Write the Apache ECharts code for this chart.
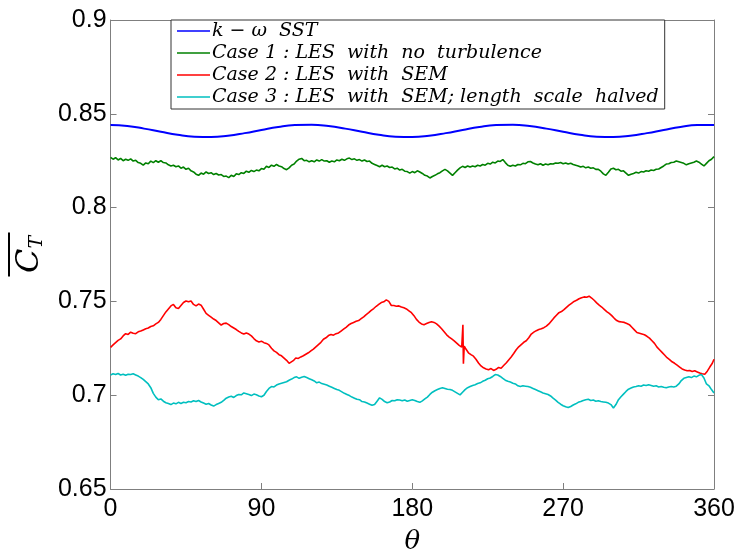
<!DOCTYPE html>
<html>
<head>
<meta charset="utf-8">
<script src="https://cdn.jsdelivr.net/npm/echarts@6/dist/echarts.min.js"></script>
<style>html,body{margin:0;padding:0;background:#fff}#c{width:738px;height:560px}</style>
</head>
<body>
<div id="c"></div>
<script>
var xTicks = [0, 90, 180, 270, 360];
var yTicks = [0.65, 0.7, 0.75, 0.8, 0.85, 0.9];
var seriesNames = [
  'k \u2212 \u03c9  SST',
  'Case 1 : LES  with  no  turbulence',
  'Case 2 : LES  with  SEM',
  'Case 3 : LES  with  SEM; length  scale  halved'
];

var sstData = [[0,.8440],[10,.8435],[20,.8421],[30,.8404],[40,.8388],[50,.8378],[60,.8376],[70,.8383],[80,.8397],[90,.8414],[100,.8430],[110,.8440],
[120,.8442],[130,.8435],[140,.8421],[150,.8404],[160,.8388],[170,.8378],[180,.8376],[190,.8383],[200,.8397],[210,.8414],[220,.8430],[230,.8440],
[240,.8442],[250,.8435],[260,.8421],[270,.8404],[280,.8388],[290,.8378],[300,.8376],[310,.8383],[320,.8397],[330,.8414],[340,.8430],[350,.8440],[360,.8440]];

var case1Data = [[0,.8268],[1.5,.8258],[3,.8266],[4.5,.8254],[6,.8262],[7.5,.8250],[9,.8258],[10.5,.8252],[12,.8260],[13.5,.8248],[15,.8252],[16.5,.8240],[18,.8236],[19.5,.8226],[21,.8238],[22.5,.8234],[24,.8248],[25.5,.8240],[27,.8250],[28.5,.8242],[30,.8250],[31.5,.8240],[33,.8238],[34.5,.8228],[36,.8222],[37.5,.8226],[39,.8218],[40.5,.8222],[42,.8210],[43.5,.8216],[45,.8204],[46.5,.8210],[48,.8196],[49.5,.8190],[51,.8178],[52.5,.8172],[54,.8184],[55.5,.8178],[57,.8190],[58.5,.8182],[60,.8186],[61.5,.8176],[63,.8182],[64.5,.8174],[66,.8176],[67.5,.8166],[69,.8168],[70.5,.8160],[72,.8172],[73.5,.8166],[75,.8180],[76.5,.8176],[78,.8186],[79.5,.8182],[81,.8194],[82.5,.8188],[84,.8198],[85.5,.8192],[87,.8200],[88.5,.8196],[90,.8208],[91.5,.8204],[93,.8220],[94.5,.8214],[96,.8226],[97.5,.8220],[99,.8230],[100.5,.8222],[102,.8218],[103.5,.8208],[105,.8202],[106.5,.8212],[108,.8226],[109.5,.8232],[111,.8248],[112.5,.8258],[114,.8262],[115.5,.8250],[117,.8252],[118.5,.8244],[120,.8250],[121.5,.8244],[123,.8254],[124.5,.8248],[126,.8256],[127.5,.8248],[129,.8250],[130.5,.8242],[132,.8248],[133.5,.8244],[135,.8254],[136.5,.8250],[138,.8258],[139.5,.8252],[141,.8260],[142.5,.8264],[144,.8256],[145.5,.8260],[147,.8252],[148.5,.8256],[150,.8248],[151.5,.8254],[153,.8246],[154.5,.8248],[156,.8236],[157.5,.8230],[159,.8224],[160.5,.8218],[162,.8226],[163.5,.8218],[165,.8222],[166.5,.8214],[168,.8216],[169.5,.8206],[171,.8210],[172.5,.8200],[174,.8204],[175.5,.8194],[177,.8192],[178.5,.8184],[180,.8192],[181.5,.8186],[183,.8196],[184.5,.8190],[186,.8182],[187.5,.8172],[189,.8168],[190.5,.8158],[192,.8166],[193.5,.8172],[195,.8180],[196.5,.8186],[198,.8196],[199.5,.8204],[201,.8196],[202.5,.8184],[204,.8172],[205.5,.8186],[207,.8200],[208.5,.8212],[210,.8220],[211.5,.8214],[213,.8222],[214.5,.8216],[216,.8222],[217.5,.8218],[219,.8226],[220.5,.8222],[222,.8230],[223.5,.8226],[225,.8236],[226.5,.8232],[228,.8242],[229.5,.8238],[231,.8248],[232.5,.8246],[234,.8256],[235.5,.8240],[237,.8226],[238.5,.8220],[240,.8226],[241.5,.8222],[243,.8230],[244.5,.8228],[246,.8236],[247.5,.8234],[249,.8244],[250.5,.8246],[252,.8238],[253.5,.8232],[255,.8228],[256.5,.8234],[258,.8226],[259.5,.8232],[261,.8228],[262.5,.8234],[264,.8232],[265.5,.8238],[267,.8236],[268.5,.8240],[270,.8234],[271.5,.8238],[273,.8232],[274.5,.8236],[276,.8230],[277.5,.8226],[279,.8222],[280.5,.8216],[282,.8220],[283.5,.8212],[285,.8216],[286.5,.8210],[288,.8212],[289.5,.8204],[291,.8204],[292.5,.8194],[294,.8180],[295.5,.8172],[297,.8188],[298.5,.8206],[300,.8210],[301.5,.8202],[303,.8204],[304.5,.8194],[306,.8196],[307.5,.8184],[309,.8172],[310.5,.8178],[312,.8182],[313.5,.8188],[315,.8184],[316.5,.8192],[318,.8190],[319.5,.8196],[321,.8194],[322.5,.8200],[324,.8198],[325.5,.8204],[327,.8206],[328.5,.8214],[330,.8222],[331.5,.8232],[333,.8234],[334.5,.8240],[336,.8242],[337.5,.8248],[339,.8244],[340.5,.8240],[342,.8236],[343.5,.8228],[345,.8234],[346.5,.8238],[348,.8242],[349.5,.8248],[351,.8242],[352.5,.8232],[354,.8222],[355.5,.8236],[357,.8250],[358.5,.8258],[360,.8272]];

var case2Data = [[0,.7255],[1.5,.7268],[3,.7280],[4.5,.7292],[6,.7300],[7.5,.7316],[9,.7328],[10.5,.7324],[12,.7336],[13.5,.7330],[15,.7328],[16.5,.7338],[18,.7342],[19.5,.7348],[21,.7354],[22.5,.7358],[24,.7366],[25.5,.7370],[27,.7380],[28.5,.7388],[30,.7404],[31.5,.7424],[33,.7444],[34.5,.7460],[36,.7476],[37.5,.7484],[39,.7466],[40.5,.7462],[42,.7478],[43.5,.7494],[45,.7502],[46.5,.7498],[48,.7502],[49.5,.7484],[51,.7476],[52.5,.7486],[54,.7480],[55.5,.7458],[57,.7436],[58.5,.7426],[60,.7416],[61.5,.7406],[63,.7398],[64.5,.7386],[66,.7374],[67.5,.7382],[69,.7384],[70.5,.7376],[72,.7366],[73.5,.7358],[75,.7350],[76.5,.7340],[78,.7332],[79.5,.7326],[81,.7332],[82.5,.7326],[84,.7316],[85.5,.7302],[87,.7290],[88.5,.7284],[90,.7288],[91.5,.7280],[93,.7276],[94.5,.7268],[96,.7250],[97.5,.7236],[99,.7228],[100.5,.7216],[102,.7210],[103.5,.7198],[105,.7186],[106.5,.7170],[107.5,.7162],[109,.7184],[110.5,.7198],[112,.7196],[113.5,.7204],[115,.7210],[116.5,.7218],[118,.7226],[119.5,.7236],[121,.7246],[122.5,.7258],[124,.7270],[125.5,.7282],[127,.7298],[128.5,.7306],[130,.7318],[131.5,.7324],[133,.7320],[134.5,.7328],[136,.7332],[137.5,.7342],[139,.7352],[140.5,.7362],[142,.7374],[143.5,.7382],[145,.7388],[146.5,.7394],[148,.7398],[149.5,.7408],[151,.7418],[152.5,.7430],[154,.7440],[155.5,.7452],[157,.7462],[158.5,.7474],[160,.7484],[161.5,.7494],[163,.7498],[164.5,.7508],[166,.7500],[167.5,.7478],[169,.7478],[170.5,.7474],[172,.7476],[173.5,.7470],[175,.7466],[176.5,.7460],[178,.7450],[179.5,.7440],[181,.7424],[182.5,.7404],[184,.7390],[185.5,.7380],[187,.7376],[188.5,.7382],[190,.7388],[191.5,.7392],[193,.7388],[194.5,.7380],[196,.7368],[197.5,.7354],[199,.7338],[200.5,.7322],[202,.7310],[203.5,.7300],[205,.7290],[206.5,.7278],[208,.7266],[209.5,.7256],[210.2,.7375],[210.5,.7168],[211,.7262],[212,.7246],[213.5,.7226],[215,.7216],[216.5,.7208],[218,.7192],[219.5,.7172],[221,.7156],[222.5,.7146],[224,.7140],[225.5,.7136],[227,.7142],[228.5,.7132],[230,.7138],[231.5,.7148],[233,.7144],[234.5,.7158],[236,.7172],[237.5,.7188],[239,.7204],[240.5,.7222],[242,.7242],[243.5,.7258],[245,.7270],[246.5,.7282],[248,.7290],[249.5,.7306],[251,.7326],[252.5,.7336],[254,.7344],[255.5,.7350],[257,.7354],[258.5,.7360],[260,.7368],[261.5,.7380],[263,.7396],[264.5,.7412],[266,.7426],[267.5,.7440],[269,.7446],[270.5,.7456],[272,.7468],[273.5,.7480],[275,.7490],[276.5,.7500],[278,.7506],[279.5,.7514],[281,.7520],[282.5,.7524],[284,.7522],[285.5,.7528],[287,.7518],[288.5,.7506],[290,.7492],[291.5,.7480],[293,.7470],[294.5,.7458],[296,.7446],[297.5,.7436],[299,.7424],[300.5,.7410],[302,.7398],[303.5,.7392],[305,.7390],[306.5,.7388],[308,.7382],[309.5,.7376],[311,.7362],[312.5,.7348],[314,.7334],[315.5,.7330],[317,.7326],[318.5,.7322],[320,.7314],[321.5,.7304],[323,.7290],[324.5,.7276],[326,.7256],[327.5,.7242],[329,.7228],[330.5,.7214],[332,.7200],[333.5,.7190],[335,.7178],[336.5,.7170],[338,.7160],[339.5,.7150],[341,.7140],[342.5,.7134],[344,.7130],[345.5,.7132],[347,.7126],[348.5,.7130],[350,.7124],[351.5,.7118],[353,.7114],[354.5,.7112],[356,.7128],[357.5,.7150],[359,.7170],[360,.7192]];

var case3Data = [[0,.7108],[1.5,.7114],[3,.7110],[4.5,.7116],[6,.7108],[7.5,.7112],[9,.7106],[10.5,.7112],[12,.7110],[13.5,.7114],[15,.7108],[16.5,.7102],[18,.7094],[19.5,.7084],[21,.7072],[22.5,.7060],[24,.7040],[25.5,.7010],[27,.6990],[28.5,.6976],[30,.6980],[31.5,.6968],[33,.6960],[34.5,.6956],[36,.6950],[37.5,.6958],[39,.6954],[40.5,.6962],[42,.6956],[43.5,.6962],[45,.6960],[46.5,.6966],[48,.6964],[49.5,.6970],[51,.6966],[52.5,.6972],[54,.6964],[55.5,.6958],[57,.6952],[58.5,.6956],[60,.6948],[61.5,.6942],[63,.6950],[64.5,.6956],[66,.6962],[67.5,.6972],[69,.6984],[70.5,.6990],[72,.6994],[73.5,.6988],[75,.6998],[76.5,.7004],[78,.7002],[79.5,.7012],[81,.7008],[82.5,.7004],[84,.6998],[85.5,.7006],[87,.7002],[88.5,.6996],[90,.6992],[91.5,.7000],[93,.7020],[94.5,.7036],[96,.7046],[97.5,.7044],[99,.7054],[100.5,.7060],[102,.7064],[103.5,.7068],[105,.7072],[106.5,.7080],[108,.7086],[109.5,.7094],[111,.7098],[112.5,.7090],[114,.7096],[115.5,.7100],[117,.7094],[118.5,.7088],[120,.7082],[121.5,.7076],[123,.7066],[124.5,.7070],[126,.7062],[127.5,.7058],[129,.7054],[130.5,.7048],[132,.7042],[133.5,.7036],[135,.7030],[136.5,.7026],[138,.7018],[139.5,.7010],[141,.7004],[142.5,.6998],[144,.6990],[145.5,.6984],[147,.6978],[148.5,.6976],[150,.6966],[151.5,.6964],[153,.6958],[154.5,.6952],[156,.6946],[157.5,.6950],[159,.6968],[160.5,.6986],[162,.6978],[163.5,.6966],[165,.6960],[166.5,.6964],[168,.6972],[169.5,.6970],[171,.6976],[172.5,.6974],[174,.6970],[175.5,.6974],[177,.6968],[178.5,.6972],[180,.6976],[181.5,.6972],[183,.6966],[184.5,.6962],[186,.6970],[187.5,.6980],[189,.6990],[190.5,.7004],[192,.7016],[193.5,.7024],[195,.7030],[196.5,.7036],[198,.7040],[199.5,.7036],[201,.7032],[202.5,.7030],[204,.7026],[205.5,.7018],[207,.7010],[208.5,.7002],[210,.7016],[211.5,.7030],[213,.7040],[214.5,.7046],[216,.7052],[217.5,.7056],[219,.7062],[220.5,.7066],[222,.7074],[223.5,.7080],[225,.7088],[226.5,.7092],[228,.7100],[229.5,.7110],[231,.7108],[232.5,.7100],[234,.7090],[235.5,.7080],[237,.7074],[238.5,.7070],[240,.7064],[241.5,.7060],[243,.7050],[244.5,.7046],[246,.7050],[247.5,.7048],[249,.7046],[250.5,.7042],[252,.7036],[253.5,.7030],[255,.7024],[256.5,.7018],[258,.7012],[259.5,.7008],[261,.7004],[262.5,.6996],[264,.6984],[265.5,.6974],[267,.6962],[268.5,.6952],[270,.6944],[271.5,.6938],[273,.6934],[274.5,.6940],[276,.6948],[277.5,.6954],[279,.6962],[280.5,.6966],[282,.6972],[283.5,.6976],[285,.6978],[286.5,.6972],[288,.6974],[289.5,.6968],[291,.6970],[292.5,.6966],[294,.6964],[295.5,.6962],[297,.6958],[298.5,.6950],[300,.6932],[301.5,.6950],[303,.6976],[304.5,.6992],[306,.7006],[307.5,.7020],[309,.7032],[310.5,.7038],[312,.7044],[313.5,.7046],[315,.7050],[316.5,.7048],[318,.7054],[319.5,.7052],[321,.7056],[322.5,.7052],[324,.7048],[325.5,.7050],[327,.7044],[328.5,.7046],[330,.7042],[331.5,.7040],[333,.7044],[334.5,.7046],[336,.7044],[337.5,.7048],[339,.7060],[340.5,.7078],[342,.7090],[343.5,.7094],[345,.7098],[346.5,.7094],[348,.7102],[349.5,.7098],[351,.7106],[352.5,.7110],[354,.7092],[355.5,.7060],[357,.7050],[358.5,.7030],[360,.7012]];

var colors = ['#0000ff', '#008000', '#ff0000', '#00bfbf'];

var chart = echarts.init(document.getElementById('c'), null, {renderer: 'canvas'});
var axisGray = '#7f7f7f';
var labelFont = {color: '#000', fontFamily: 'Liberation Sans, Arial, sans-serif', fontSize: 25};

function frameAxis(type, pos, isX) {
  var a = {
    type: 'value', position: pos,
    min: isX ? xTicks[0] : yTicks[0],
    max: isX ? xTicks[xTicks.length - 1] : yTicks[yTicks.length - 1],
    interval: isX ? 90 : 0.05,
    axisLine: {show: true, onZero: false, lineStyle: {color: axisGray, width: 1}},
    axisTick: {show: true, inside: true, length: 6, lineStyle: {color: axisGray}},
    axisLabel: {show: false},
    splitLine: {show: false}
  };
  return a;
}

var xMain = frameAxis('value', 'bottom', true);
xMain.axisLabel = Object.assign({show: true, margin: 8, showMinLabel: true, showMaxLabel: true}, labelFont);
xMain.name = '\u03b8';
xMain.nameLocation = 'middle';
xMain.nameGap = 40;
xMain.nameTextStyle = {fontFamily: 'DejaVu Serif', fontStyle: 'italic', fontSize: 26, color: '#000'};
var xTop = frameAxis('value', 'top', true);

var yMain = frameAxis('value', 'left', false);
yMain.axisLabel = Object.assign({show: true, margin: 4, showMinLabel: true, showMaxLabel: true}, labelFont);
yMain.name = '{bar| }\n{c|C}{t|T}';
yMain.nameLocation = 'middle';
yMain.nameRotate = 90;
yMain.nameGap = 58;
yMain.nameTextStyle = {
  rich: {
    bar: {width: 44, height: 2, lineHeight: 8, backgroundColor: '#000', fontSize: 2},
    c: {fontFamily: 'DejaVu Serif', fontStyle: 'italic', fontSize: 32, lineHeight: 34, color: '#000'},
    t: {fontFamily: 'DejaVu Serif', fontStyle: 'italic', fontSize: 19, lineHeight: 22, color: '#000', verticalAlign: 'bottom'}
  }
};
var yRight = frameAxis('value', 'right', false);

var option = {
  animation: false,
  backgroundColor: '#fff',
  grid: {left: 103, right: 24, top: 20, bottom: 54, containLabel: false, show: false},
  xAxis: [xMain, xTop],
  yAxis: [yMain, yRight],
  legend: {
    orient: 'vertical',
    left: 171, top: 20,
    padding: [1, 6, 2, 6],
    itemGap: 2,
    itemWidth: 33, itemHeight: 1.5,
    icon: 'rect',
    backgroundColor: '#fff',
    borderColor: '#333', borderWidth: 1,
    textStyle: {fontFamily: 'DejaVu Serif', fontStyle: 'italic', fontSize: 19, lineHeight: 20, color: '#000', padding: [0, 0, 0, -3]},
    data: seriesNames
  },
  series: [
    {name: seriesNames[0], type: 'line', data: sstData, smooth: true, symbol: 'none', lineStyle: {color: colors[0], width: 2}, itemStyle: {color: colors[0]}, z: 3},
    {name: seriesNames[1], type: 'line', data: case1Data, symbol: 'none', lineStyle: {color: colors[1], width: 1.6}, itemStyle: {color: colors[1]}},
    {name: seriesNames[2], type: 'line', data: case2Data, symbol: 'none', lineStyle: {color: colors[2], width: 1.6}, itemStyle: {color: colors[2]}},
    {name: seriesNames[3], type: 'line', data: case3Data, symbol: 'none', lineStyle: {color: colors[3], width: 1.6}, itemStyle: {color: colors[3]}}
  ]
};
chart.setOption(option);
</script>
</body>
</html>
